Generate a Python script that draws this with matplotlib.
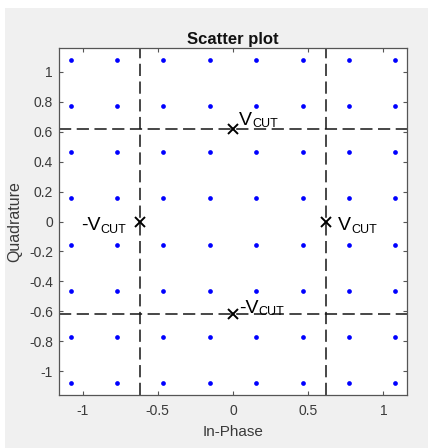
import numpy as np
import matplotlib.pyplot as plt
from matplotlib.patches import Rectangle

plt.rcParams['font.family'] = ['Liberation Sans', 'DejaVu Sans']
plt.rcParams['axes.unicode_minus'] = False

# 64-QAM constellation, unit average power
levels = [-7, -5, -3, -1, 1, 3, 5, 7]
scale = 1 / np.sqrt(42)
vcut = 4 * scale

xticks = [-1, -0.5, 0, 0.5, 1]
yticks = [-1, -0.8, -0.6, -0.4, -0.2, 0, 0.2, 0.4, 0.6, 0.8, 1]
xticklabels = ['-1', '-0.5', '0', '0.5', '1']
yticklabels = ['-1', '-0.8', '-0.6', '-0.4', '-0.2', '0', '0.2', '0.4', '0.6', '0.8', '1']

I, Q = np.meshgrid(np.array(levels) * scale, np.array(levels) * scale)
cut_x = [0, 0, -vcut, vcut]
cut_y = [vcut, -vcut, 0, 0]

fig = plt.figure(figsize=(4.35, 4.48), dpi=100, facecolor='white')
fig.patches.append(Rectangle((5 / 435, 0), 423 / 435, 440 / 448,
                             transform=fig.transFigure, facecolor='#f0f0f0',
                             edgecolor='none', zorder=-10))
ax = fig.add_axes([59 / 435, 53 / 448, 348 / 435, 347 / 448])
ax.set_facecolor('white')

ax.plot(I.ravel(), Q.ravel(), 'o', color='#0000ff', markersize=3.4, markeredgewidth=0)
for v in (-vcut, vcut):
    ax.axvline(v, color='#151515', lw=1.1, dashes=(8, 3.6))
    ax.axhline(v, color='#151515', lw=1.1, dashes=(8, 3.6))
ax.plot(cut_x, cut_y, 'x', color='black', markersize=7, markeredgewidth=1.4)


def vcut_label(x, y, prefix=''):
    t = ax.text(x, y, prefix + 'V', fontsize=14, va='baseline', color='black')
    ax.annotate('CUT', xy=(1, 0), xycoords=t, xytext=(0, -1),
                textcoords='offset points', fontsize=9, va='bottom', color='black')


vcut_label(0.04, 0.645)
vcut_label(0.04, -0.61, '-')
vcut_label(0.70, -0.06)
vcut_label(-1.013, -0.06, '-')

lim = 1.157
ax.set_xlim(-lim, lim)
ax.set_ylim(-lim, lim)
ax.set_xticks(xticks)
ax.set_xticklabels(xticklabels)
ax.set_yticks(yticks)
ax.set_yticklabels(yticklabels)
ax.tick_params(direction='in', top=True, right=True, length=3, width=0.8,
               color='#555555', labelcolor='#3a3a3a', labelsize=10)
ax.tick_params(axis='x', pad=6.5)
ax.tick_params(axis='y', pad=4.3)
for s in ax.spines.values():
    s.set_color('#555555')
    s.set_linewidth(0.9)

ax.set_title('Scatter plot', fontsize=12, fontweight='bold', color='#111111', pad=3)
ax.set_xlabel('In-Phase', fontsize=11, color='#3a3a3a')
ax.set_ylabel('Quadrature', fontsize=11.5, color='#3a3a3a')
ax.xaxis.set_label_coords(0.5, -0.087)
ax.yaxis.set_label_coords(-0.105, 0.5)

fig.savefig('out.png', dpi=100, facecolor=fig.get_facecolor())
